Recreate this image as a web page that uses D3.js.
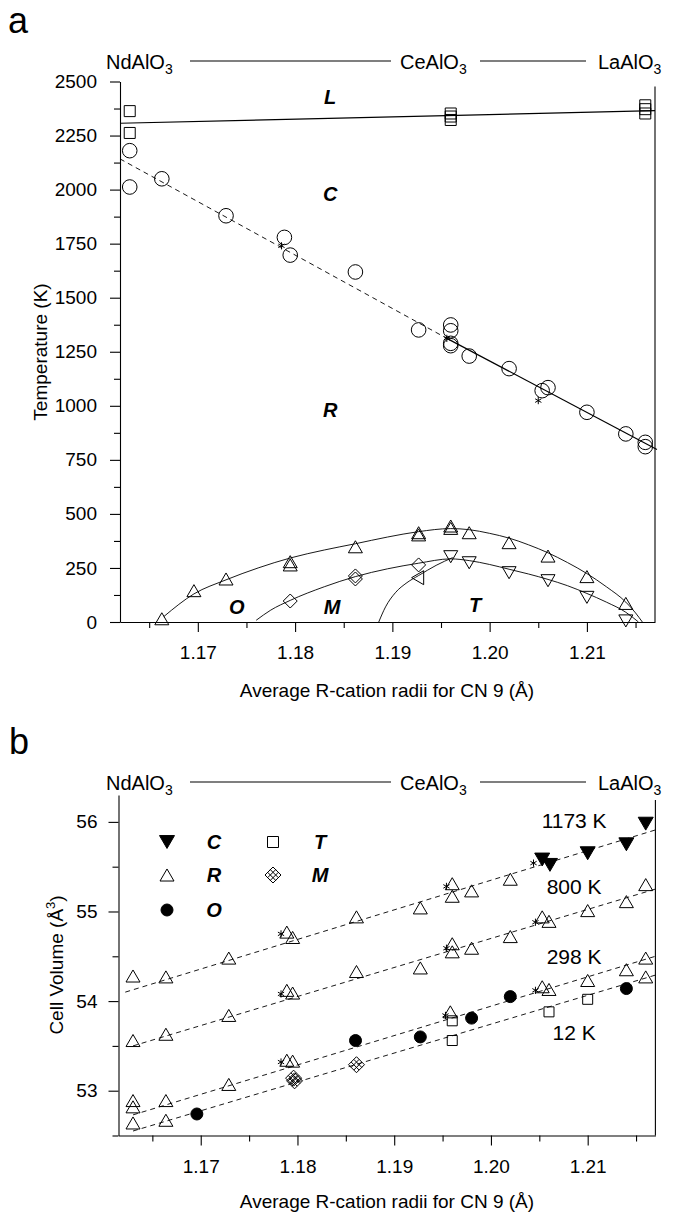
<!DOCTYPE html>
<html lang="en">
<head>
<meta charset="UTF-8">
<title>RAlO3 phase diagram and cell volume</title>
<script src="https://d3js.org/d3.v7.min.js"></script>
<style>
body { margin: 0; background: #fff; }
svg { display: block; font-family: "Liberation Sans", Arial, Helvetica, sans-serif; }
</style>
</head>
<body>
<svg></svg>
<script>
// ---------- panel a : phase diagram ----------
const liqSquares = [[1.163,2363],[1.163,2262],[1.196,2352],[1.196,2338],[1.196,2322],[1.216,2390],[1.216,2372],[1.216,2352]];
const liquidus = [[1.162,2307],[1.217,2365]];
const cubicCircles = [[1.163,2180],[1.163,2012],[1.1663,2050],[1.1729,1879],[1.1789,1779],[1.1795,1697],[1.1862,1619],
  [1.1927,1351],[1.196,1374],[1.196,1347],[1.196,1289],[1.196,1278],[1.1979,1230],[1.202,1172],[1.2054,1070],
  [1.206,1084],[1.21,970],[1.214,870],[1.216,831],[1.216,811]];
const cubicStars = [[1.1786,1740],[1.1956,1312],[1.205,1024]];
const cubicDashed = [[1.162,2142],[1.1956,1312]];
const cubicSolid = [[1.1956,1312],[1.2172,798]];
const rhombUp = [[1.1663,15],[1.1696,145],[1.1729,199],[1.1795,279],[1.1795,264],[1.1862,348],[1.1927,413],[1.1927,403],
  [1.196,444],[1.196,433],[1.1979,413],[1.202,367],[1.206,305],[1.21,210],[1.214,86]];
const tetDown = [[1.196,302],[1.1979,274],[1.202,228],[1.206,191],[1.21,114],[1.214,5]];
const monoDiamonds = [[1.1795,97],[1.1862,213],[1.1862,199],[1.1927,264]];
const orthoLeft = [[1.1926,205]];
const domeR = [[1.1665,25],[1.1696,130],[1.1729,195],[1.1762,250],[1.1795,296],[1.183,333],[1.1862,362],[1.1895,393],
  [1.1927,418],[1.196,432],[1.1979,427],[1.2,410],[1.202,388],[1.204,357],[1.206,320],[1.208,275],[1.21,224],
  [1.212,163],[1.214,92],[1.215,42],[1.2157,0]];
const domeM = [[1.176,8],[1.1775,55],[1.1795,100],[1.183,163],[1.1862,210],[1.1895,246],[1.1927,272],[1.196,292],
  [1.1979,284],[1.2,266],[1.202,244],[1.204,222],[1.206,197],[1.208,168],[1.21,132],[1.212,92],[1.214,45],[1.2153,0]];
const tBoundary = [[1.1886,0],[1.1893,70],[1.1903,135],[1.1915,182],[1.1927,215],[1.1945,262],[1.1962,298]];
const phaseLabelsA = [["L",1.1836,2428],["C",1.1836,1980],["R",1.1836,980],["O",1.174,71],["M",1.1838,71],["T",1.1985,79]];
const xMajor = [1.17,1.18,1.19,1.20,1.21];
const xLabels = ["1.17","1.18","1.19","1.20","1.21"];
const xMinor = [1.165,1.175,1.185,1.195,1.205,1.215];
const tMajor = [0,250,500,750,1000,1250,1500,1750,2000,2250,2500];
const tLabels = ["0","250","500","750","1000","1250","1500","1750","2000","2250","2500"];
const tMinor = [125,375,625,875,1125,1375,1625,1875,2125,2375];

// ---------- panel b : cell volume ----------
const r1173 = [[1.163,54.28],[1.1664,54.27],[1.1729,54.48],[1.1789,54.77],[1.1795,54.71],[1.1861,54.94],[1.1927,55.04],
  [1.196,55.31],[1.196,55.17],[1.198,55.23],[1.202,55.36]];
const c1173 = [[1.2053,55.58],[1.2061,55.52],[1.21,55.65],[1.214,55.75],[1.216,55.98]];
const s1173 = [[1.1783,54.75],[1.1954,55.28],[1.2044,55.54]];
const fit1173 = [[1.1622,54.10],[1.217,55.91]];
const r800 = [[1.163,53.56],[1.1664,53.63],[1.1729,53.84],[1.1789,54.12],[1.1795,54.09],[1.1861,54.33],[1.1927,54.37],
  [1.196,54.64],[1.196,54.55],[1.198,54.59],[1.202,54.72],[1.2053,54.94],[1.206,54.89],[1.21,55.01],[1.214,55.11],[1.216,55.30]];
const s800 = [[1.1783,54.08],[1.1954,54.59],[1.2046,54.88]];
const fit800 = [[1.163,53.50],[1.217,55.25]];
const r298 = [[1.163,52.89],[1.163,52.82],[1.1664,52.89],[1.1729,53.07],[1.1789,53.34],[1.1795,53.33],[1.1958,53.88],
  [1.2053,54.16],[1.206,54.13],[1.21,54.23],[1.214,54.35],[1.216,54.48]];
const o298 = [[1.186,53.56],[1.1927,53.60],[1.198,53.81],[1.202,54.05]];
const t298 = [[1.196,53.78]];
const s298 = [[1.1783,53.32],[1.1953,53.84],[1.2046,54.12]];
const fit298 = [[1.163,52.73],[1.217,54.50]];
const r12 = [[1.163,52.64],[1.1664,52.67],[1.216,54.27]];
const o12 = [[1.1696,52.74],[1.214,54.14]];
const m12 = [[1.1796,53.14],[1.1797,53.11],[1.1861,53.29]];
const t12 = [[1.196,53.56],[1.206,53.88],[1.21,54.02]];
const fit12 = [[1.163,52.55],[1.217,54.29]];
const tempLabels = [["1173 K",1.2086,56.02],["800 K",1.2086,55.28],["298 K",1.2086,54.50],["12 K",1.2086,53.65]];
const legendNames = ["C","R","O","T","M"];
const legendShapes = ["triDownFill","triUp","dot","square","crossDiamond"];
const vMajor = [53,54,55,56];
const vLabels = ["53","54","55","56"];
const vMinor = [52.5,53.5,54.5,55.5];

const svg = d3.select("svg").attr("width", 674).attr("height", 1218);

// marker shapes, "size" is used as a half width
const shapes = {
  triUp: {draw(c, r){ c.moveTo(0,-r*0.86); c.lineTo(r,r*0.86); c.lineTo(-r,r*0.86); c.closePath(); }},
  triDown: {draw(c, r){ c.moveTo(0,r*0.86); c.lineTo(r,-r*0.86); c.lineTo(-r,-r*0.86); c.closePath(); }},
  triLeft: {draw(c, r){ c.moveTo(-r*0.86,0); c.lineTo(r*0.86,-r); c.lineTo(r*0.86,r); c.closePath(); }},
  square: {draw(c, r){ c.rect(-r,-r,2*r,2*r); }},
  diamond: {draw(c, r){ c.moveTo(0,-r); c.lineTo(r,0); c.lineTo(0,r); c.lineTo(-r,0); c.closePath(); }},
  circle: {draw(c, r){ c.moveTo(r,0); c.arc(0,0,r,0,2*Math.PI); }},
  // diamond with a hatch parallel to its edges
  crossDiamond: {draw(c, r){
    c.moveTo(0,-r); c.lineTo(r,0); c.lineTo(0,r); c.lineTo(-r,0); c.closePath();
    for (let f of [1/3, 2/3]) {
      c.moveTo(-r + f*r, -f*r); c.lineTo(f*r, r - f*r);
      c.moveTo(r - f*r, -f*r); c.lineTo(-f*r, r - f*r);
    }
  }},
  star: {draw(c, r){
    for (let a of [90, 30, 150]) {
      let t = a*Math.PI/180;
      c.moveTo(r*Math.cos(t), r*Math.sin(t)); c.lineTo(-r*Math.cos(t), -r*Math.sin(t));
    }
  }}
};

const markerStyle = {
  triUp: ["triUp", 7, "none"], triDown: ["triDown", 7, "none"], triLeft: ["triLeft", 7, "none"],
  square: ["square", 5.5, "none"], diamond: ["diamond", 7, "none"], circle: ["circle", 7.3, "none"],
  crossDiamond: ["crossDiamond", 8, "none"], star: ["star", 3.6, "none"],
  triDownFill: ["triDown", 7.5, "#000"], dot: ["circle", 6, "#000"], squareB: ["square", 5, "none"]
};

function plot(g, x, y, pts, kind) {
  let [shape, r, fill] = markerStyle[kind];
  g.selectAll(null).data(pts).join("path")
    .attr("transform", d => `translate(${x(d[0])},${y(d[1])})`)
    .attr("d", d3.symbol().type(shapes[shape]).size(r))
    .attr("fill", fill).attr("stroke", "#000").attr("stroke-width", 1);
}

function drawLine(g, x, y, pts, opts) {
  let gen = d3.line().x(d => x(d[0])).y(d => y(d[1]));
  if (opts.curve) gen.curve(d3.curveMonotoneX);
  g.append("path").attr("d", gen(pts)).attr("fill", "none")
    .attr("stroke", "#000").attr("stroke-width", opts.w || 1)
    .attr("stroke-dasharray", opts.dash || null);
}

function axes(g, x, y, xMaj, xLab, xMin, yMaj, yLab, yMin, yPad) {
  let y0 = y.range()[0], y1 = y.range()[1];
  g.append("g").attr("transform", `translate(0,${y0})`)
    .call(d3.axisBottom(x).tickValues(xMaj).tickSize(10).tickSizeOuter(0).tickPadding(14)
      .tickFormat((d, i) => xLab[i]));
  g.append("g").attr("transform", `translate(0,${y0})`)
    .call(d3.axisBottom(x).tickValues(xMin).tickSize(6).tickFormat(""))
    .select(".domain").remove();
  g.append("g").attr("transform", `translate(${x.range()[0]},0)`)
    .call(d3.axisLeft(y).tickValues(yMaj).tickSize(10).tickSizeOuter(0).tickPadding(yPad)
      .tickFormat((d, i) => yLab[i]));
  g.append("g").attr("transform", `translate(${x.range()[0]},0)`)
    .call(d3.axisLeft(y).tickValues(yMin).tickSize(6).tickFormat(""))
    .select(".domain").remove();
  g.selectAll(".tick text").attr("font-size", 19).attr("font-family", null).attr("fill", "#000");
  g.selectAll(".domain, .tick line").attr("stroke", "#000").attr("stroke-width", 1.1);
  // right frame line
  g.append("line").attr("x1", x.range()[1]).attr("x2", x.range()[1])
    .attr("y1", y1 + 5).attr("y2", y0).attr("stroke", "#000").attr("stroke-width", 1.1);
}

function header(g, base, lineY) {
  const comp = [["NdAl", 106], ["CeAl", 400], ["LaAl", 598]];
  comp.forEach(([t, x0]) => {
    let tx = g.append("text").attr("x", x0).attr("y", base).attr("font-size", 20);
    tx.append("tspan").text(t + "O");
    tx.append("tspan").attr("dy", 5).attr("font-size", 14).text("3");
  });
  [[190, 391], [480, 586]].forEach(([a, b]) => {
    g.append("line").attr("x1", a).attr("x2", b).attr("y1", lineY).attr("y2", lineY)
      .attr("stroke", "#000").attr("stroke-width", 1.1);
  });
}

// ---------------- panel a ----------------
const ga = svg.append("g");
const xa = d3.scaleLinear().domain([1.162, 1.217]).range([120, 655]);
const ya = d3.scaleLinear().domain([0, 2500]).range([622, 81.5]);

ga.append("text").attr("x", 8).attr("y", 33).attr("font-size", 36).text("a");
header(ga, 69, 61);
axes(ga, xa, ya, xMajor, xLabels, xMinor, tMajor, tLabels, tMinor, 13);

drawLine(ga, xa, ya, liquidus, {w: 1.2});
drawLine(ga, xa, ya, cubicDashed, {w: 0.9, dash: "5,4"});
drawLine(ga, xa, ya, cubicSolid, {w: 1.2});
drawLine(ga, xa, ya, domeR, {curve: true, w: 0.9});
drawLine(ga, xa, ya, domeM, {curve: true, w: 0.9});
drawLine(ga, xa, ya, tBoundary, {curve: true, w: 0.9});

plot(ga, xa, ya, liqSquares, "square");
plot(ga, xa, ya, cubicCircles, "circle");
plot(ga, xa, ya, cubicStars, "star");
plot(ga, xa, ya, rhombUp, "triUp");
plot(ga, xa, ya, tetDown, "triDown");
plot(ga, xa, ya, monoDiamonds, "diamond");
plot(ga, xa, ya, orthoLeft, "triLeft");

ga.selectAll(null).data(phaseLabelsA).join("text")
  .attr("x", d => xa(d[1])).attr("y", d => ya(d[2])).attr("dy", "0.36em")
  .attr("text-anchor", "middle").attr("font-size", 20)
  .attr("font-weight", "bold").attr("font-style", "italic").text(d => d[0]);

ga.append("text").attr("transform", "translate(47,352) rotate(-90)")
  .attr("text-anchor", "middle").attr("font-size", 19).text("Temperature (K)");
ga.append("text").attr("x", 387).attr("y", 697)
  .attr("text-anchor", "middle").attr("font-size", 19).text("Average R-cation radii for CN 9 (Å)");

// ---------------- panel b ----------------
const gb = svg.append("g");
const xb = d3.scaleLinear().domain([1.1615, 1.217]).range([118.5, 655.4]);
const yb = d3.scaleLinear().domain([52.5, 56.3]).range([1135.5, 795]);

gb.append("text").attr("x", 9).attr("y", 754).attr("font-size", 36).text("b");
header(gb, 790, 782);
axes(gb, xb, yb, xMajor, xLabels, xMinor, vMajor, vLabels, vMinor, 11);

[fit1173, fit800, fit298, fit12].forEach(f => drawLine(gb, xb, yb, f, {w: 0.9, dash: "5,4"}));

plot(gb, xb, yb, r1173, "triUp");
plot(gb, xb, yb, c1173, "triDownFill");
plot(gb, xb, yb, r800, "triUp");
plot(gb, xb, yb, r298, "triUp");
plot(gb, xb, yb, o298, "dot");
plot(gb, xb, yb, t298, "squareB");
plot(gb, xb, yb, r12, "triUp");
plot(gb, xb, yb, o12, "dot");
plot(gb, xb, yb, m12, "crossDiamond");
plot(gb, xb, yb, t12, "squareB");
[s1173, s800, s298].forEach(s => plot(gb, xb, yb, s, "star"));

gb.selectAll(null).data(tempLabels).join("text")
  .attr("x", d => xb(d[1])).attr("y", d => yb(d[2])).attr("dy", "0.36em")
  .attr("text-anchor", "middle").attr("font-size", 21).text(d => d[0]);

// legend, two columns
legendNames.forEach((name, i) => {
  let col = i < 3 ? 0 : 1, row = i < 3 ? i : i - 3;
  let sx = col ? 273 : 167, ly = [842, 875, 910][row];
  let [shape, r, fill] = markerStyle[legendShapes[i]];
  gb.append("path").attr("transform", `translate(${sx},${ly})`)
    .attr("d", d3.symbol().type(shapes[shape]).size(r))
    .attr("fill", fill).attr("stroke", "#000").attr("stroke-width", 1);
  gb.append("text").attr("x", sx + 47).attr("y", ly).attr("dy", "0.36em")
    .attr("text-anchor", "middle").attr("font-size", 20)
    .attr("font-weight", "bold").attr("font-style", "italic").text(name);
});

gb.append("text").attr("transform", "translate(63,965) rotate(-90)")
  .attr("text-anchor", "middle").attr("font-size", 19)
  .call(t => {
    t.append("tspan").text("Cell Volume (Å");
    t.append("tspan").attr("dy", -8).attr("font-size", 13).text("3");
    t.append("tspan").attr("dy", 8).text(")");
  });
gb.append("text").attr("x", 387).attr("y", 1208)
  .attr("text-anchor", "middle").attr("font-size", 19).text("Average R-cation radii for CN 9 (Å)");
</script>
</body>
</html>
